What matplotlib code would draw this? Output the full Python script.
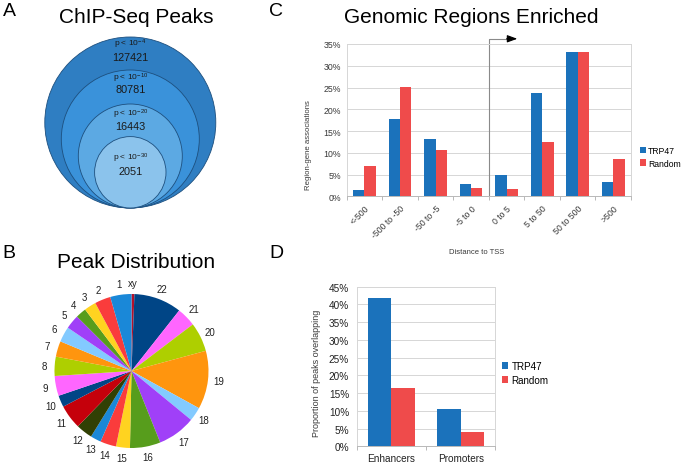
import numpy as np
import matplotlib
matplotlib.use('Agg')
import matplotlib.pyplot as plt
from matplotlib.patches import Circle
from matplotlib.ticker import PercentFormatter, FixedLocator

plt.rcParams['font.family'] = ['Liberation Sans', 'DejaVu Sans']
plt.rcParams['mathtext.fontset'] = 'custom'
plt.rcParams['mathtext.rm'] = 'Liberation Sans'
plt.rcParams['mathtext.default'] = 'regular'

# --- data ---
# A: peaks passing each p-value cutoff
p_exponents = ['-4', '-10', '-20', '-30']
peak_counts = [127421, 80781, 16443, 2051]

# B: share of peaks per chromosome (clockwise from top)
chrom_labels = ['xy', '22', '21', '20', '19', '18', '17', '16', '15', '14', '13', '12',
                '11', '10', '9', '8', '7', '6', '5', '4', '3', '2', '1']
chrom_share = [2.2, 36, 14.5, 22, 44, 10.5, 28.7, 23, 10.5, 12, 8, 12.4,
               18.3, 8.8, 15, 14.5, 11.8, 11.6, 10.7, 8, 9, 12, 16]
chrom_colors = ['#b3102a', '#004586', '#ff66ff', '#aecf00', '#ff950e', '#83caff',
                '#a040f8', '#579d1c', '#ffd320', '#fa3c3c', '#1a88d8', '#314004',
                '#c5000b', '#004586', '#ff66ff', '#aecf00', '#ff950e', '#83caff',
                '#a040f8', '#579d1c', '#ffd320', '#fa3c3c', '#1a88d8']

# C: region-gene associations by distance to TSS (%)
tss_bins = ['<-500', '-500 to -50', '-50 to -5', '-5 to 0', '0 to 5', '5 to 50', '50 to 500', '>500']
trp47_tss = [1.5, 17.7, 13.1, 2.8, 5.0, 23.7, 33.1, 3.3]
random_tss = [7.0, 25.2, 10.6, 1.9, 1.7, 12.4, 33.1, 8.5]

# D: proportion of peaks overlapping (%)
features = ['Enhancers', 'Promoters']
trp47_overlap = [41.7, 10.6]
random_overlap = [16.3, 4.1]

BLUE = '#1b72bb'
RED = '#ef4b4b'
GRID = '#d6d6d6'
TXT = '#3a3a3a'

W, H = 682, 464
fig = plt.figure(figsize=(W / 100, H / 100), dpi=100)


def px_rect(x0, y0, x1, y1):
    return [x0 / W, 1 - y1 / H, (x1 - x0) / W, (y1 - y0) / H]


# overlay in pixel coordinates for labels, titles and panel A
ov = fig.add_axes([0, 0, 1, 1])
ov.set_xlim(0, W)
ov.set_ylim(H, 0)
ov.axis('off')

for letter, (lx, ly) in zip('ABCD', [(9, 12), (9, 254), (276, 12), (276, 254)]):
    ov.text(lx, ly, letter, fontsize=14, ha='center', va='center')

ov.text(136, 22.7, 'ChIP-Seq Peaks', fontsize=15, ha='center', va='baseline')
ov.text(136, 268.3, 'Peak Distribution', fontsize=15, ha='center', va='baseline')
ov.text(471, 22.7, 'Genomic Regions Enriched', fontsize=15, ha='center', va='baseline')

# A: nested circles tangent at the bottom
radii = [85.5, 69, 52, 35.7]
circle_colors = ['#2f7ec2', '#3a92da', '#5ca9e3', '#8bc3ec']
p_y = [44.3, 78.3, 114.3, 158.3]
n_y = [58.3, 90, 126.7, 171.7]
for r, c, e, n, py, ny in zip(radii, circle_colors, p_exponents, peak_counts, p_y, n_y):
    ov.add_patch(Circle((130.3, 209 - r), r, facecolor=c, edgecolor='#1d4f7e', lw=0.6))
    ov.text(130.3, py, 'p < 10$^{%s}$' % e, fontsize=6, ha='center', va='center', color='#1a1a1a')
    ov.text(130.3, ny, str(n), fontsize=7.8, ha='center', va='center', color='#1a1a1a')

# B: pie
axB = fig.add_axes(px_rect(131.5 - 77, 372 - 77, 131.5 + 77, 372 + 77))
wedges, texts = axB.pie(chrom_share, labels=chrom_labels, colors=chrom_colors,
                        startangle=90, counterclock=False, labeldistance=1.14,
                        wedgeprops=dict(linewidth=0), textprops=dict(fontsize=7, color='#222222'))
for t in texts:
    t.set_ha('center')
    t.set_va('center')
axB.set_xlim(-1, 1)
axB.set_ylim(-1, 1)
axB.set_aspect('equal')


def style_axes(ax, n, fs, ypad):
    ax.set_xlim(-0.5, n - 0.5)
    ax.yaxis.set_major_formatter(PercentFormatter(100, decimals=0))
    ax.yaxis.grid(True, color=GRID, lw=0.7)
    ax.set_axisbelow(True)
    for s in ['left', 'right', 'top']:
        ax.spines[s].set_color(GRID)
        ax.spines[s].set_linewidth(0.7)
    ax.spines['bottom'].set_color('#b8b8b8')
    ax.spines['bottom'].set_linewidth(0.7)
    ax.tick_params(axis='y', length=0, pad=ypad, labelsize=fs, labelcolor=TXT)
    ax.tick_params(axis='x', which='major', length=0, labelsize=fs, labelcolor=TXT)
    ax.xaxis.set_minor_locator(FixedLocator(np.arange(n + 1) - 0.5))
    ax.tick_params(axis='x', which='minor', length=3, color='#b8b8b8', width=0.7)


# C: distance to TSS
axC = fig.add_axes(px_rect(346.7, 45, 631, 197.3))
x = np.arange(len(tss_bins))
w = 0.32
axC.bar(x - w / 2, trp47_tss, w, color=BLUE, label='TRP47')
axC.bar(x + w / 2, random_tss, w, color=RED, label='Random')
axC.set_ylim(0, 35)
axC.set_yticks(np.arange(0, 36, 5))
style_axes(axC, len(tss_bins), 6.3, 4)
axC.set_xticks(x)
axC.set_xticklabels(tss_bins, rotation=45, ha='right', va='top', rotation_mode='anchor')
axC.tick_params(axis='x', which='major', pad=5)
# TSS arrow
axC.plot([3.5, 3.5, 4.05], [0.3, 36.2, 36.2], color='#8a8a8a', lw=0.8, clip_on=False)
axC.annotate('', xy=(4.3, 36.2), xytext=(4.0, 36.2), annotation_clip=False,
             arrowprops=dict(arrowstyle='-|>,head_length=0.6,head_width=0.22',
                             color='black', lw=0.8, shrinkA=0, shrinkB=0))
axC.legend(loc='center left', bbox_to_anchor=(640 / W, 1 - 158 / H), bbox_transform=fig.transFigure,
           frameon=False, fontsize=6.2, handlelength=0.7, handleheight=0.7,
           handletextpad=0.25, borderpad=0, borderaxespad=0, labelspacing=0.35)
ov.text(308, 145, 'Region-gene associations', fontsize=5.6, rotation=90,
        ha='center', va='center', color=TXT)
ov.text(476.7, 252.3, 'Distance to TSS', fontsize=5.5, ha='center', va='center', color=TXT)

# D: overlap with enhancers / promoters
axD = fig.add_axes(px_rect(356.7, 287.7, 495.3, 447.3))
xd = np.arange(len(features))
wd = 0.34
axD.bar(xd - wd / 2, trp47_overlap, wd, color=BLUE, label='TRP47')
axD.bar(xd + wd / 2, random_overlap, wd, color=RED, label='Random')
axD.set_ylim(0, 45)
axD.set_yticks(np.arange(0, 46, 5))
style_axes(axD, len(features), 7.2, 5.5)
axD.set_xticks(xd)
axD.set_xticklabels(features)
axD.tick_params(axis='x', which='major', pad=5, labelcolor='#222222')
axD.tick_params(axis='y', labelcolor='#222222')
axD.legend(loc='center left', bbox_to_anchor=(502 / W, 1 - 374 / H), bbox_transform=fig.transFigure,
           frameon=False, fontsize=7.1, handlelength=0.65, handleheight=0.65,
           handletextpad=0.3, borderpad=0, borderaxespad=0, labelspacing=0.45)
ov.text(316.7, 373, 'Proportion of peaks overlapping', fontsize=6.5, rotation=90,
        ha='center', va='center', color=TXT)

fig.savefig('out.png', dpi=100)
